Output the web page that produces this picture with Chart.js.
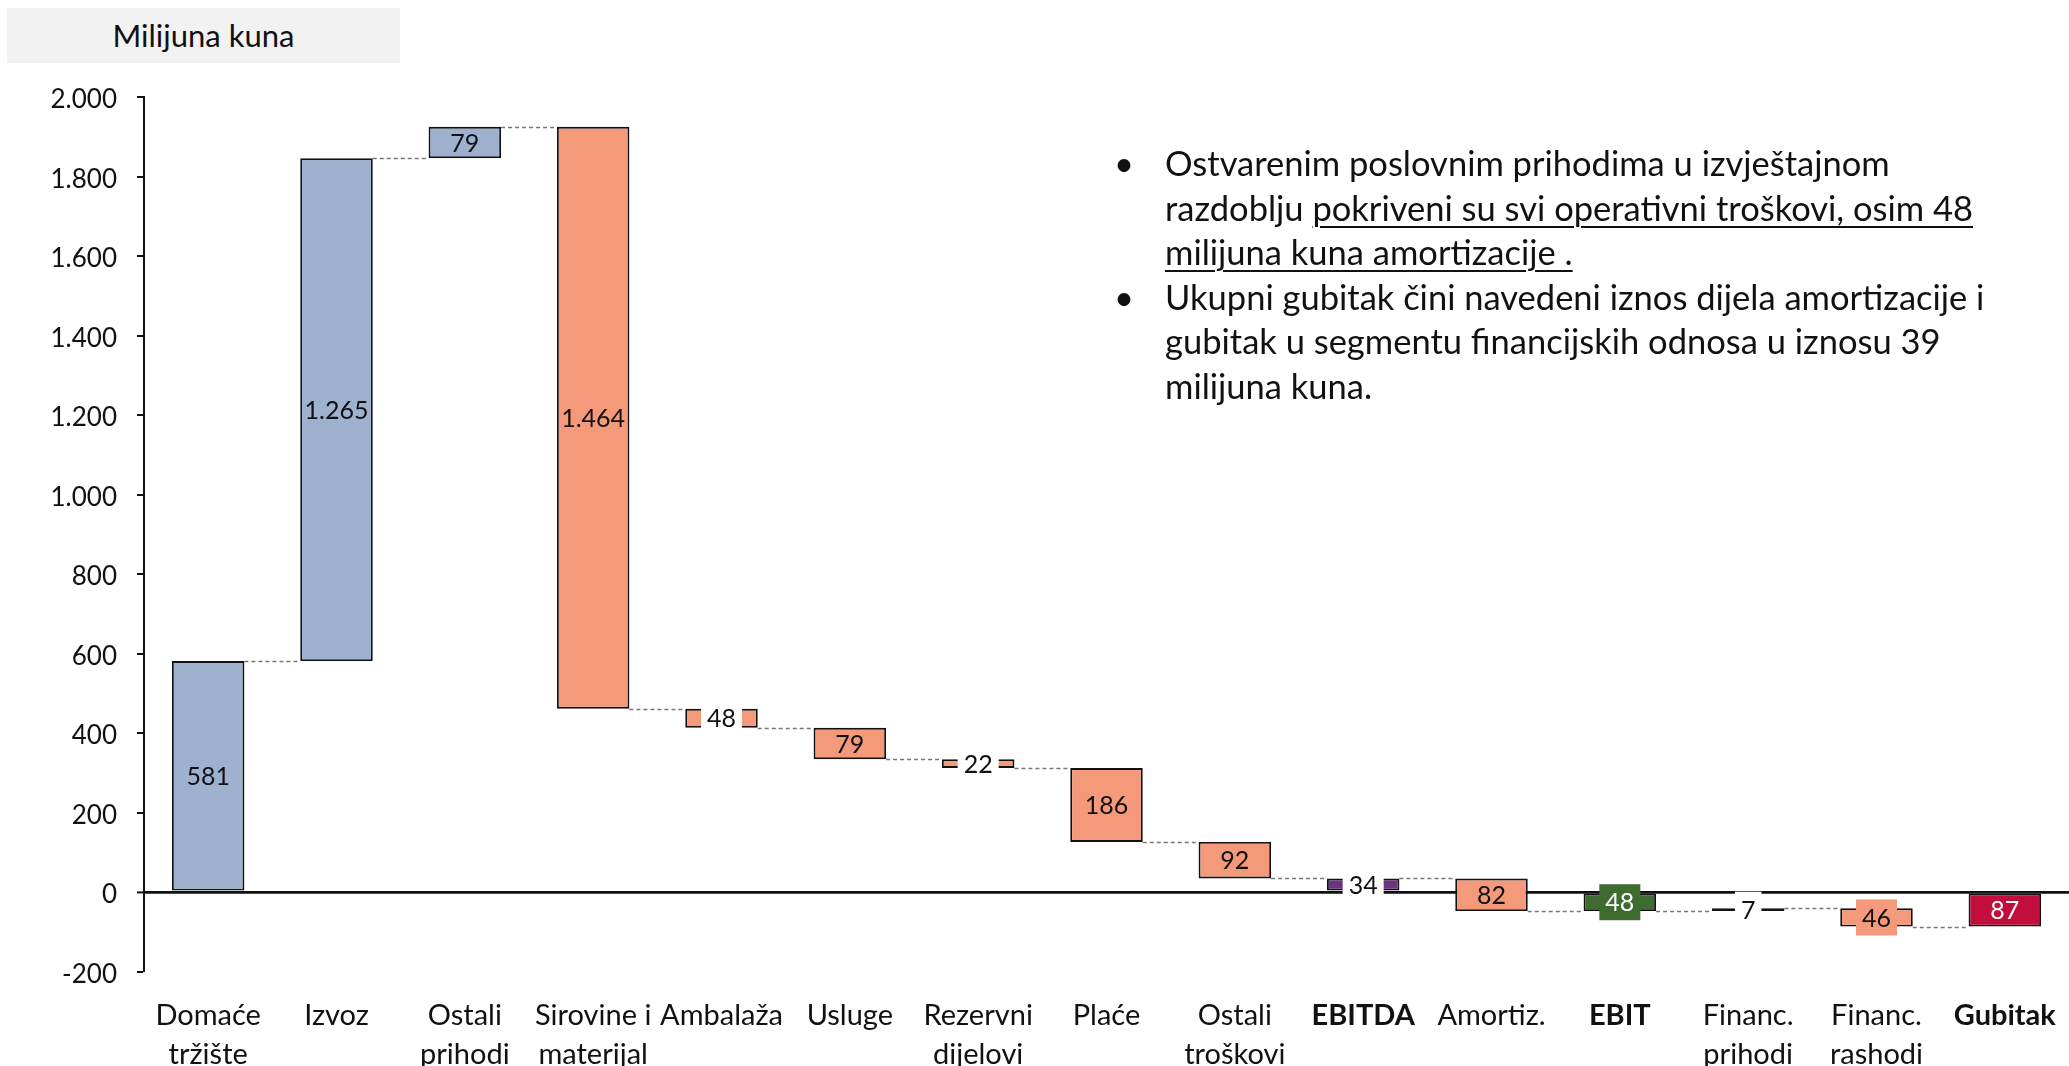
<!DOCTYPE html>
<html>
<head>
<meta charset="utf-8">
<script src="https://cdn.jsdelivr.net/npm/chart.js@4.4.1/dist/chart.umd.min.js"></script>
<style>
    body { margin: 0; background: #fff; font-family: Lato, "Noto Sans", sans-serif; overflow: hidden; }
    #wrap { position: relative; width: 2069px; height: 1066px; }
    #unit {
        position: absolute; left: 7px; top: 8px; width: 393px; height: 55px;
        background: #f2f2f2; color: #111; font-size: 31px; line-height: 55px; text-align: center;
    }
    #notes {
        position: absolute; left: 1114px; top: 141px; color: #111;
        font-size: 34.5px; line-height: 44.6px; white-space: nowrap;
    }
    #notes .item { position: relative; padding-left: 51px; }
    #notes .dot { position: absolute; left: 0; top: 0; }
    #notes u { text-decoration-thickness: 2px; text-underline-offset: 5px; }
</style>
</head>
<body>
<div id="wrap">
    <canvas id="chart" width="2069" height="1066"></canvas>
    <div id="unit">Milijuna kuna</div>
    <div id="notes">
        <div class="item"><span class="dot">•</span>Ostvarenim poslovnim prihodima u izvještajnom<br>razdoblju <u>pokriveni su svi operativni troškovi, osim 48<br>milijuna kuna amortizacije .</u></div>
        <div class="item"><span class="dot">•</span>Ukupni gubitak čini navedeni iznos dijela amortizacije i<br>gubitak u segmentu financijskih odnosa u iznosu 39<br>milijuna kuna.</div>
    </div>
</div>

<script>
/* --------------------------
   DATA
-------------------------- */
const categories = [
    ["Domaće", "tržište"], "Izvoz", ["Ostali", "prihodi"], ["Sirovine i", "materijal"],
    "Ambalaža", "Usluge", ["Rezervni", "dijelovi"], "Plaće", ["Ostali", "troškovi"],
    "EBITDA", "Amortiz.", "EBIT", ["Financ.", "prihodi"], ["Financ.", "rashodi"], "Gubitak"
];
// signed change per step; for subtotal columns the value is the subtotal itself
const values = [581, 1265, 79, -1464, -48, -79, -22, -186, -92, 34, -82, -48, 7, -46, -87];
const isTotal = [false, false, false, false, false, false, false, false, false, true, false, true, false, false, true];
const boldLabels = ["EBITDA", "EBIT", "Gubitak"];

const yMin = -200;
const yMax = 2000;
const yStep = 200;

/* --------------------------
   STYLES
-------------------------- */
const BLUE = "#9eb1cf", SALMON = "#f4997a";
const barColors = [BLUE, BLUE, BLUE, SALMON, SALMON, SALMON, SALMON, SALMON, SALMON,
    "#6b3480", SALMON, "#3e6b30", "#4fae78", SALMON, "#c20e3d"];
const labelFill = [null, null, null, null, "#fff", null, "#fff", null, null,
    "#fff", null, "#3e6b30", "#fff", SALMON, null];
const labelColor = values.map((v, i) => (i === 11 || i === 14) ? "#fff" : "#111");

/* --------------------------
   WATERFALL RANGES
-------------------------- */
let run = 0;
const ranges = [];
const levels = [];
values.forEach((v, i) => {
    if (isTotal[i]) {
        ranges.push([0, v]);
        run = v;
    } else {
        ranges.push([run, run + v]);
        run += v;
    }
    levels.push(run);
});

const fmt = n => String(n).replace(/\B(?=(\d{3})+(?!\d))/g, ".");

/* --------------------------
   CONNECTORS + LABELS
-------------------------- */
const waterfallExtras = {
    id: "waterfallExtras",
    beforeDatasetsDraw(chart) {
        const ctx = chart.ctx;
        const meta = chart.getDatasetMeta(0);
        const y = chart.scales.y;
        ctx.save();
        ctx.strokeStyle = "#777";
        ctx.lineWidth = 1.3;
        ctx.setLineDash([4, 3]);
        for (let i = 0; i < meta.data.length - 1; i++) {
            const a = meta.data[i], b = meta.data[i + 1];
            const py = Math.round(y.getPixelForValue(levels[i])) + 0.5;
            ctx.beginPath();
            ctx.moveTo(a.x + a.width / 2, py);
            ctx.lineTo(b.x - b.width / 2, py);
            ctx.stroke();
        }
        ctx.restore();
    },
    afterDatasetsDraw(chart) {
        const ctx = chart.ctx;
        const meta = chart.getDatasetMeta(0);
        ctx.save();
        ctx.font = "25px Lato, 'Noto Sans', sans-serif";
        ctx.textAlign = "center";
        ctx.textBaseline = "middle";
        meta.data.forEach((bar, i) => {
            const text = fmt(Math.abs(values[i]));
            const cy = (bar.y + bar.base) / 2;
            if (labelFill[i]) {
                const w = ctx.measureText(text).width + 12;
                ctx.fillStyle = labelFill[i];
                ctx.fillRect(bar.x - w / 2, cy - 18, w, 36);
            }
            ctx.fillStyle = labelColor[i];
            ctx.fillText(text, bar.x, cy + 1);
        });
        ctx.restore();
    }
};

/* --------------------------
   CHART
-------------------------- */
new Chart(document.getElementById("chart"), {
    type: "bar",
    data: {
        labels: categories,
        datasets: [{
            data: ranges,
            backgroundColor: barColors,
            borderColor: "#111",
            borderWidth: 1.9,
            borderSkipped: false,
            categoryPercentage: 1,
            barPercentage: 0.565
        }]
    },
    options: {
        responsive: false,
        animation: false,
        devicePixelRatio: 1,
        layout: { padding: { top: 97, right: 0, bottom: 0, left: 0 } },
        plugins: {
            legend: { display: false },
            tooltip: { enabled: false }
        },
        scales: {
            x: {
                grid: { display: false },
                border: { display: false },
                ticks: {
                    padding: 17,
                    maxRotation: 0,
                    autoSkip: false,
                    color: "#111",
                    font: c => {
                        const lab = categories[c.index];
                        return {
                            family: "Lato, 'Noto Sans', sans-serif",
                            size: 29,
                            lineHeight: 1.345,
                            weight: boldLabels.includes(lab) ? "bold" : "normal"
                        };
                    }
                },
                afterFit: s => {
                    s.height = 94.5;
                    s.paddingLeft = 0;
                    s.paddingRight = 0;
                }
            },
            y: {
                min: yMin,
                max: yMax,
                border: { display: true, color: "#111", width: 2 },
                grid: {
                    color: c => c.tick && c.tick.value === 0 ? "#111" : "rgba(0,0,0,0)",
                    lineWidth: c => c.tick && c.tick.value === 0 ? 2.8 : 0,
                    tickColor: "#111",
                    tickLength: 7,
                    tickWidth: 2
                },
                ticks: {
                    stepSize: yStep,
                    padding: 20,
                    labelOffset: 3,
                    color: "#111",
                    font: { family: "Lato, 'Noto Sans', sans-serif", size: 26 },
                    callback: v => fmt(v)
                },
                afterFit: s => {
                    s.width = 144;
                    s.paddingTop = 0;
                    s.paddingBottom = 0;
                }
            }
        }
    },
    plugins: [waterfallExtras]
});
</script>
</body>
</html>
